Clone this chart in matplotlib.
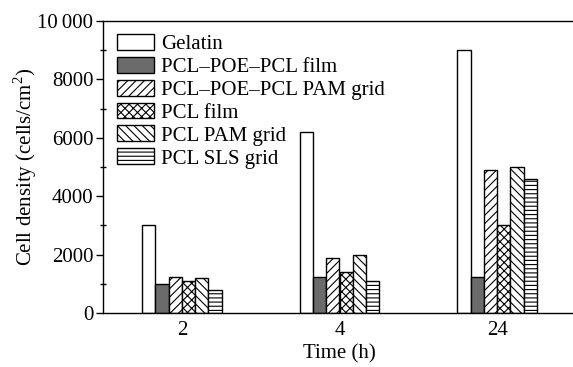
import matplotlib
matplotlib.use("Agg")
import matplotlib.pyplot as plt
import numpy as np
from matplotlib.ticker import MultipleLocator

plt.rcParams['font.family'] = ['Liberation Serif', 'DejaVu Serif']
plt.rcParams['hatch.linewidth'] = 0.8
plt.rcParams['mathtext.fontset'] = 'custom'
plt.rcParams['mathtext.rm'] = 'Liberation Serif'

times = ["2", "4", "24"]
series = ["Gelatin", "PCL\u2013POE\u2013PCL film", "PCL\u2013POE\u2013PCL PAM grid",
          "PCL film", "PCL PAM grid", "PCL SLS grid"]
gelatin = [3000, 6200, 9000]
pcl_poe_film = [1000, 1250, 1250]
pcl_poe_pam = [1220, 1900, 4900]
pcl_film = [1100, 1400, 3000]
pcl_pam = [1200, 2000, 5000]
pcl_sls = [800, 1100, 4600]
values = [gelatin, pcl_poe_film, pcl_poe_pam, pcl_film, pcl_pam, pcl_sls]

yticks = [0, 2000, 4000, 6000, 8000, 10000]
ytick_labels = ["0", "2000", "4000", "6000", "8000", "10\u2009000"]

fills = ["white", "#6b6b6b", "white", "white", "white", "white"]
hatches = [None, None, "////", "xxxx", "\\\\\\\\", "----"]

FS = 15

fig = plt.figure(figsize=(5.73, 3.67), dpi=100)
ax = fig.add_axes([103/573, 54/367, 473/573, 292/367])

x = np.arange(len(times))
w = 0.084
for i, (vals, fc, h, lab) in enumerate(zip(values, fills, hatches, series)):
    ax.bar(x + (i - 2.5) * w, vals, width=w, color=fc, edgecolor="black",
           linewidth=1.0, hatch=h, label=lab)

ax.set_xlim(-0.5, 2.5)
ax.set_ylim(0, 10000)
ax.set_xticks(x)
ax.set_xticklabels(times)
ax.set_yticks(yticks)
ax.set_yticklabels(ytick_labels)
ax.yaxis.set_minor_locator(MultipleLocator(1000))
ax.tick_params(axis='x', length=0, labelsize=FS, pad=6)
ax.tick_params(axis='y', which='major', direction='out', length=5, width=1, labelsize=FS, pad=2)
ax.tick_params(axis='y', which='minor', direction='inout', length=5, width=1)
for s in ax.spines.values():
    s.set_linewidth(1.0)
ax.spines['right'].set_visible(False)

ax.set_xlabel("Time (h)", fontsize=FS, labelpad=3)
ax.set_ylabel("Cell density (cells/cm$^2$)", fontsize=FS, labelpad=-1)

leg = ax.legend(loc="upper left", bbox_to_anchor=(0.004, 0.999), frameon=False,
                fontsize=FS, handlelength=1.75, handleheight=0.8,
                labelspacing=0.13, handletextpad=0.35, borderaxespad=0.2)

fig.savefig("out.png", dpi=100)
